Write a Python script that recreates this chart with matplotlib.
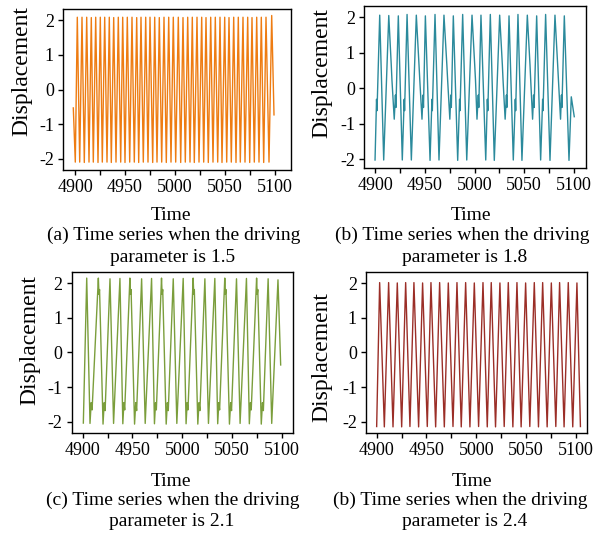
import matplotlib
matplotlib.use("Agg")
from matplotlib import pyplot as plt

plt.rcParams['font.family'] = ['Liberation Serif', 'DejaVu Serif']
plt.rcParams['axes.unicode_minus'] = False

W, H = 593, 536

# (a) driving parameter 1.5 -- turning points
a_time = [4898.3, 4900.3, 4902.3, 4904.7, 4907.0, 4909.3, 4911.7, 4914.0, 4916.3, 4918.3,
          4920.7, 4923.0, 4925.3, 4927.3, 4929.7, 4932.0, 4934.3, 4936.3, 4938.7, 4941.0,
          4943.3, 4945.7, 4947.7, 4950.0, 4952.3, 4954.7, 4957.0, 4959.3, 4961.7, 4963.7,
          4966.0, 4968.3, 4970.7, 4973.0, 4975.0, 4977.7, 4979.7, 4982.0, 4984.3, 4986.7,
          4989.0, 4991.3, 4993.7, 4996.0, 4998.3, 5000.7, 5003.3, 5005.7, 5008.0, 5010.3,
          5012.7, 5015.0, 5017.3, 5019.3, 5022.0, 5024.0, 5026.7, 5028.7, 5031.0, 5033.3,
          5035.7, 5038.0, 5040.3, 5042.7, 5045.0, 5047.0, 5049.7, 5051.7, 5054.0, 5056.3,
          5058.7, 5061.0, 5063.3, 5065.3, 5068.0, 5070.0, 5072.7, 5074.7, 5077.0, 5079.3,
          5081.7, 5084.0, 5086.3, 5088.7, 5091.0, 5094.0, 5096.7, 5099.0]
a_disp = [-0.53, -2.09, 2.08, -2.09, 2.08, -2.10, 2.08, -2.09, 2.07, -2.09,
          2.08, -2.10, 2.08, -2.09, 2.08, -2.09, 2.08, -2.10, 2.07, -2.09,
          2.08, -2.09, 2.08, -2.10, 2.08, -2.09, 2.08, -2.09, 2.07, -2.10,
          2.08, -2.09, 2.08, -2.09, 2.08, -2.10, 2.08, -2.09, 2.07, -2.09,
          2.08, -2.10, 2.08, -2.09, 2.08, -2.09, 2.08, -2.10, 2.07, -2.09,
          2.08, -2.09, 2.08, -2.10, 2.08, -2.09, 2.08, -2.09, 2.07, -2.10,
          2.08, -2.09, 2.08, -2.09, 2.08, -2.10, 2.08, -2.09, 2.07, -2.09,
          2.08, -2.10, 2.08, -2.09, 2.08, -2.09, 2.08, -2.10, 2.07, -2.09,
          2.08, -2.09, 2.08, -2.10, 2.08, -2.09, 2.13, -0.73]

# (b) driving parameter 1.8
b_time = [4900.0, 4901.5, 4902.0, 4904.7, 4908.7, 4913.8, 4916.3, 4917.0, 4919.3, 4920.5,
          4921.0, 4923.4, 4927.4, 4929.3, 4929.7, 4932.2, 4936.5, 4941.5, 4944.2, 4945.0,
          4947.2, 4948.2, 4948.7, 4950.6, 4955.3, 4957.2, 4957.6, 4960.3, 4964.3, 4969.3,
          4972.2, 4973.0, 4975.2, 4976.2, 4976.7, 4978.7, 4983.1, 4985.0, 4985.4, 4988.1,
          4992.2, 4997.5, 5000.2, 5001.0, 5002.5, 5003.8, 5004.3, 5006.5, 5011.3, 5012.9,
          5013.4, 5015.9, 5019.9, 5025.3, 5028.0, 5028.7, 5030.8, 5032.1, 5032.5, 5034.7,
          5039.0, 5041.0, 5041.4, 5043.7, 5047.7, 5053.1, 5055.8, 5056.5, 5058.4, 5059.4,
          5059.9, 5062.5, 5066.5, 5068.5, 5068.9, 5071.5, 5075.9, 5080.9, 5083.6, 5084.4,
          5086.5, 5087.4, 5087.9, 5090.3, 5095.0, 5097.3, 5100.3]
b_disp = [-2.02, -0.31, -0.63, 2.06, -2.02, 2.05, 0.66, 0.23, -0.87, -0.19,
          -0.54, 2.04, -2.02, -0.31, -0.63, 2.08, -2.02, 2.06, 0.66, 0.23,
          -0.87, -0.19, -0.54, 2.04, -2.03, -0.31, -0.63, 2.08, -2.02, 2.06,
          0.66, 0.23, -0.87, -0.19, -0.54, 2.04, -2.03, -0.31, -0.63, 2.08,
          -2.02, 2.06, 0.66, 0.23, -0.87, -0.19, -0.54, 2.06, -2.02, -0.31,
          -0.63, 2.08, -2.03, 2.06, 0.66, 0.23, -0.87, -0.19, -0.54, 2.04,
          -2.02, -0.31, -0.63, 2.08, -2.03, 2.06, 0.66, 0.23, -0.87, -0.19,
          -0.54, 2.04, -2.02, -0.31, -0.63, 2.08, -2.03, 2.06, 0.66, 0.23,
          -0.87, -0.19, -0.54, 2.04, -2.03, -0.24, -0.80]

# (c) driving parameter 2.1
c_time = [4900.6, 4904.0, 4907.3, 4908.5, 4909.4, 4915.7, 4916.3, 4916.9, 4920.4, 4921.6,
          4922.5, 4927.4, 4931.0, 4937.4, 4940.3, 4941.4, 4942.2, 4947.4, 4948.0, 4948.6,
          4952.1, 4953.3, 4954.2, 4959.2, 4962.8, 4969.2, 4972.1, 4973.2, 4974.0, 4979.2,
          4979.8, 4980.4, 4983.9, 4985.1, 4986.0, 4991.0, 4994.6, 5001.0, 5003.9, 5005.0,
          5005.8, 5011.0, 5011.6, 5012.2, 5015.7, 5016.9, 5017.8, 5022.8, 5026.4, 5032.8,
          5035.7, 5036.8, 5037.6, 5042.8, 5043.4, 5044.0, 5047.5, 5048.7, 5049.6, 5054.6,
          5058.2, 5064.6, 5067.5, 5068.6, 5069.4, 5074.8, 5075.4, 5076.0, 5079.5, 5080.7,
          5081.6, 5086.4, 5090.0, 5096.3, 5099.0]
c_disp = [-2.04, 2.15, -2.05, -1.45, -1.66, 2.15, 1.68, 1.82, -2.07, -1.45,
          -1.68, 2.13, -2.05, 2.14, -2.06, -1.45, -1.66, 2.15, 1.68, 1.82,
          -2.07, -1.45, -1.68, 2.13, -2.05, 2.14, -2.06, -1.45, -1.66, 2.15,
          1.68, 1.82, -2.07, -1.45, -1.68, 2.13, -2.05, 2.14, -2.06, -1.45,
          -1.66, 2.15, 1.68, 1.82, -2.07, -1.45, -1.68, 2.13, -2.05, 2.14,
          -2.06, -1.45, -1.66, 2.15, 1.68, 1.82, -2.07, -1.45, -1.68, 2.13,
          -2.05, 2.14, -2.06, -1.45, -1.66, 2.15, 1.68, 1.82, -2.07, -1.45,
          -1.68, 2.13, -2.05, 2.10, -0.36]

# (d) driving parameter 2.4
d_time = [4900.0, 4903.0, 4907.7, 4912.0, 4916.4, 4920.7, 4925.1, 4929.1, 4933.4, 4937.4,
          4942.1, 4946.1, 4950.8, 4954.5, 4959.2, 4963.2, 4967.9, 4971.9, 4976.6, 4980.6,
          4984.9, 4989.3, 4993.6, 4998.0, 5002.3, 5006.7, 5011.0, 5015.0, 5019.3, 5023.7,
          5028.0, 5032.1, 5036.7, 5040.8, 5045.0, 5049.5, 5053.7, 5058.2, 5062.4, 5066.6,
          5071.1, 5075.3, 5079.8, 5083.6, 5088.1, 5092.3, 5096.8, 5101.0, 5104.5]
d_disp = [-2.14, 2.02, -2.15, 2.02, -2.15, 2.01, -2.15, 2.02, -2.14, 2.02,
          -2.15, 2.01, -2.14, 2.02, -2.15, 2.02, -2.15, 2.01, -2.14, 2.02,
          -2.15, 2.02, -2.15, 2.01, -2.14, 2.02, -2.15, 2.02, -2.15, 2.01,
          -2.14, 2.02, -2.15, 2.02, -2.15, 2.01, -2.14, 2.02, -2.15, 2.02,
          -2.15, 2.01, -2.14, 2.02, -2.15, 2.02, -2.15, 2.01, -2.14]

captions = ["(a) Time series when the driving", "(b) Time series when the driving",
            "(c) Time series when the driving", "(b) Time series when the driving"]
params = ["parameter is 1.5", "parameter is 1.8", "parameter is 2.1", "parameter is 2.4"]
colors = ['#EE7C12', '#2B8A9C', '#7B9E3C', '#9B2E27']

fig = plt.figure(figsize=(W / 100, H / 100), dpi=100)


def axes_px(left, top, right, bottom):
    return fig.add_axes([left / W, 1 - bottom / H, (right - left) / W, (bottom - top) / H])


def text_px(x, y, s, **kw):
    fig.text(x / W, 1 - y / H, s, **kw)


# axes box in pixels, x limits, y limits
panels = [
    ((63, 9, 291, 170), (4888.0, 5116.0), (-2.317, 2.317)),
    ((364, 6, 586, 168), (4888.9, 5112.1), (-2.245, 2.318)),
    ((71.7, 271.7, 293, 433), (4888.9, 5111.4), (-2.327, 2.335)),
    ((366, 271.7, 587.3, 433), (4889.3, 5111.4), (-2.327, 2.335)),
]
series = [(a_time, a_disp), (b_time, b_disp), (c_time, c_disp), (d_time, d_disp)]

for (box, xl, yl), (t, y), col in zip(panels, series, colors):
    ax = axes_px(*box)
    ax.plot(t, y, color=col, lw=1.0)
    ax.set_xlim(*xl)
    ax.set_ylim(*yl)
    ax.set_xticks(range(4900, 5101, 25))
    ax.set_xticklabels([str(v) if v % 50 == 0 else '' for v in range(4900, 5101, 25)])
    ax.set_yticks([-2, -1, 0, 1, 2])
    ax.set_yticklabels(['-2', '-1', '0', '1', '2'])
    ax.tick_params(direction='out', length=3.5, width=1.0, labelsize=13, pad=3)
    for sp in ax.spines.values():
        sp.set_linewidth(1.0)

# axis titles and captions
ylab_pos = [(22, 71), (322, 73), (30, 340), (322, 357)]
time_pos = [(171, 215), (471, 215), (171, 481), (472, 481)]
cap_pos = [(174, 235, 'center'), (335, 235, 'left'), (173, 500, 'center'), (333, 500, 'left')]
par_pos = [(173, 257), (465, 257), (172, 522), (465, 522)]

for i in range(4):
    text_px(*ylab_pos[i], "Displacement", rotation=90, ha='center', va='center', fontsize=17)
    text_px(*time_pos[i], "Time", ha='center', va='center', fontsize=14)
    cx, cy, ha = cap_pos[i]
    text_px(cx, cy, captions[i], ha=ha, va='center', fontsize=14)
    text_px(*par_pos[i], params[i], ha='center', va='center', fontsize=14)

fig.savefig("out.png", dpi=100)
